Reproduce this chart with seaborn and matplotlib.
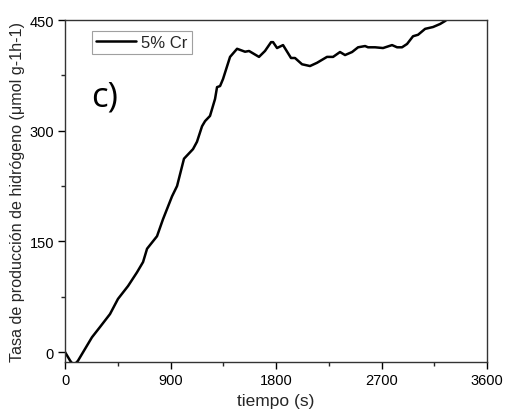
import numpy as np
import pandas as pd
import matplotlib
matplotlib.use("Agg")
import matplotlib.pyplot as plt
from matplotlib.ticker import MultipleLocator
import seaborn as sns

tiempo = [0, 45, 75, 110, 155, 230, 299, 384, 452, 538, 614, 666, 700, 785, 836, 913,
          956, 1015, 1092, 1126, 1169, 1195, 1237, 1280, 1297, 1323, 1348, 1408, 1468,
          1536, 1570, 1655, 1706, 1758, 1775, 1809, 1860, 1928, 1962, 2022, 2090, 2150,
          2235, 2287, 2346, 2389, 2449, 2500, 2560, 2585, 2645, 2713, 2790, 2833, 2875,
          2918, 2969, 3012, 3072, 3140, 3200, 3242, 3300]
tasa = [0, -12, -18, -12, 0, 20, 34, 51.5, 72, 89.5, 108, 122, 140, 157, 180, 211,
        225, 262, 275, 285, 306, 313, 320, 343, 359, 360.5, 370, 400, 411,
        407, 408, 400, 408, 420, 420, 412, 416, 398.5, 398.5, 390, 387.6, 392,
        400, 400, 406.6, 402.5, 406.6, 413, 414.7, 413, 413, 412, 416, 413, 413,
        417.5, 428, 430, 438, 440.5, 444.6, 448.6, 456]
serie = "5% Cr"
xticks = [0, 900, 1800, 2700, 3600]
yticks = [0, 150, 300, 450]

df = pd.DataFrame({"tiempo": tiempo, "tasa": tasa, "serie": serie})

sns.set_style("ticks")
plt.rcParams['font.family'] = ['Liberation Sans', 'DejaVu Sans']

fig = plt.figure(figsize=(5.05, 4.14), dpi=100)
ax = fig.add_axes([65/505, 1 - 363/414, (487 - 65)/505, (363 - 21)/414])

sns.lineplot(data=df, x="tiempo", y="tasa", hue="serie", palette=["black"],
             linewidth=1.8, ax=ax, sort=False)

ax.set_xlim(0, 3600)
ax.set_ylim(-13.5, 450)
ax.set_xticks(xticks)
ax.set_yticks(yticks)
ax.xaxis.set_minor_locator(MultipleLocator(450))
ax.yaxis.set_minor_locator(MultipleLocator(75))
ax.tick_params(axis="both", which="major", direction="out", length=5, width=1,
               labelsize=10.5, colors="black", pad=3)
ax.tick_params(axis="both", which="minor", direction="out", length=3, width=1)
for s in ax.spines.values():
    s.set_visible(True)
    s.set_color("#333333")
    s.set_linewidth(1.0)

ax.set_xlabel("tiempo (s)", fontsize=12.5, labelpad=4)
ax.set_ylabel("Tasa de producción de hidrógeno (μmol g-1h-1)", fontsize=11.6, labelpad=3)

leg = ax.legend(loc="upper left", bbox_to_anchor=(27/422, 1 - 11/342), frameon=True,
                fancybox=False, fontsize=12, handlelength=2.4, borderpad=0.25,
                borderaxespad=0, handletextpad=0.3)
leg.get_frame().set_edgecolor("#888888")
leg.get_frame().set_linewidth(0.8)
for line in leg.get_lines():
    line.set_linewidth(1.8)

ax.text(91, 414 - 107, "c)", transform=None, fontsize=25, family=["Open Sans", "DejaVu Sans"],
        color="black", va="baseline", ha="left")

fig.savefig("out.png", dpi=100)
